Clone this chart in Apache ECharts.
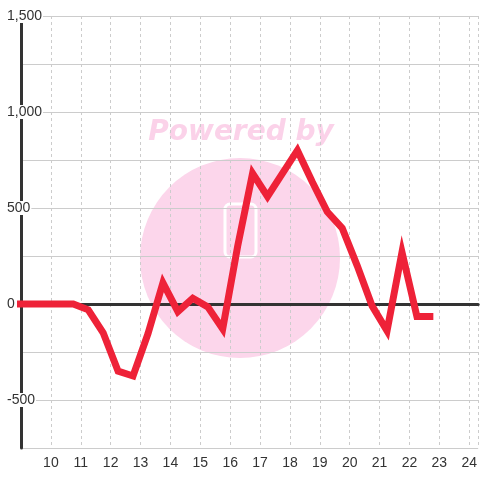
<!DOCTYPE html>
<html>
<head>
<meta charset="utf-8">
<script src="https://cdn.jsdelivr.net/npm/echarts@6/dist/echarts.min.js"></script>
<style>html,body{margin:0;padding:0;background:#fff}#c{width:480px;height:480px}</style>
</head>
<body>
<div id="c"></div>
<script>
var xValues = [8.75, 9.25, 9.75, 10.25, 10.75, 11.25, 11.75, 12.25, 12.75, 13.25, 13.75, 14.25, 14.75, 15.25, 15.75, 16.25, 16.75, 17.25, 17.75, 18.25, 18.75, 19.25, 19.75, 20.25, 20.75, 21.25, 21.75, 22.25, 22.8];
var yValues = [0, 0, 0, 0, 0, -30, -150, -350, -375, -155, 110, -40, 30, -15, -130, 300, 680, 560, 680, 800, 635, 480, 395, 200, -10, -140, 270, -65, -65];
var yTickLabels = ['-500', '0', '500', '1,000', '1,500'];

var data = xValues.map(function (x, i) { return [x, yValues[i]]; });
var chart = echarts.init(document.getElementById('c'), null, {renderer: 'canvas'});
var font = 'Liberation Sans, Arial, sans-serif';
chart.setOption({
  animation: false,
  backgroundColor: '#ffffff',
  grid: {left: 21, right: 0, top: 16, bottom: 32, containLabel: false},
  graphic: [
    {type: 'circle', z: -10, shape: {cx: 240, cy: 258, r: 100}, style: {fill: '#fcd6eb'}, silent: true},
    {type: 'text', z: -10, x: 241, y: 147, silent: true,
     style: {text: 'Powered by', fill: '#fbd2e9', font: 'italic bold 28px "DejaVu Sans"', align: 'center', verticalAlign: 'bottom'}},
    {type: 'rect', z: -10, shape: {x: 225, y: 204, width: 31, height: 53, r: 5}, silent: true,
     style: {fill: 'none', stroke: '#ffffff', lineWidth: 3}}
  ],
  xAxis: [{
    type: 'value', min: 9, max: 24.3, interval: 1, position: 'bottom',
    axisLine: {show: false, onZero: false},
    axisTick: {show: false},
    axisLabel: {showMinLabel: false, showMaxLabel: false, color: '#333', fontSize: 14, fontFamily: font, margin: 8},
    splitLine: {show: true, lineStyle: {color: '#cccccc', type: [3, 3], width: 1}}
  }, {
    type: 'value', min: 9, max: 24.3, interval: 1, position: 'top',
    axisLine: {show: true, onZero: true, lineStyle: {color: '#333333', width: 3}},
    axisTick: {show: false}, axisLabel: {show: false}, splitLine: {show: false}
  }],
  yAxis: {
    type: 'value', min: -750, max: 1500, interval: 250,
    axisLine: {show: true, lineStyle: {color: '#333333', width: 3}},
    axisTick: {show: false},
    axisLabel: {
      color: '#333', fontSize: 14, fontFamily: font, align: 'left', margin: 15,
      backgroundColor: '#ffffff', padding: [0, 1],
      formatter: function (v) {
        var idx = (v + 500) / 500;
        if (v % 500 !== 0 || idx < 0 || idx >= yTickLabels.length) return '';
        return yTickLabels[idx];
      }
    },
    splitLine: {show: true, lineStyle: {color: '#cccccc', width: 1}}
  },
  series: [{
    type: 'line', data: data, xAxisIndex: 0, yAxisIndex: 0,
    showSymbol: false, symbol: 'none',
    lineStyle: {color: '#ee2238', width: 7, join: 'miter'},
    itemStyle: {color: '#ee2238'}
  }]
});
</script>
</body>
</html>
